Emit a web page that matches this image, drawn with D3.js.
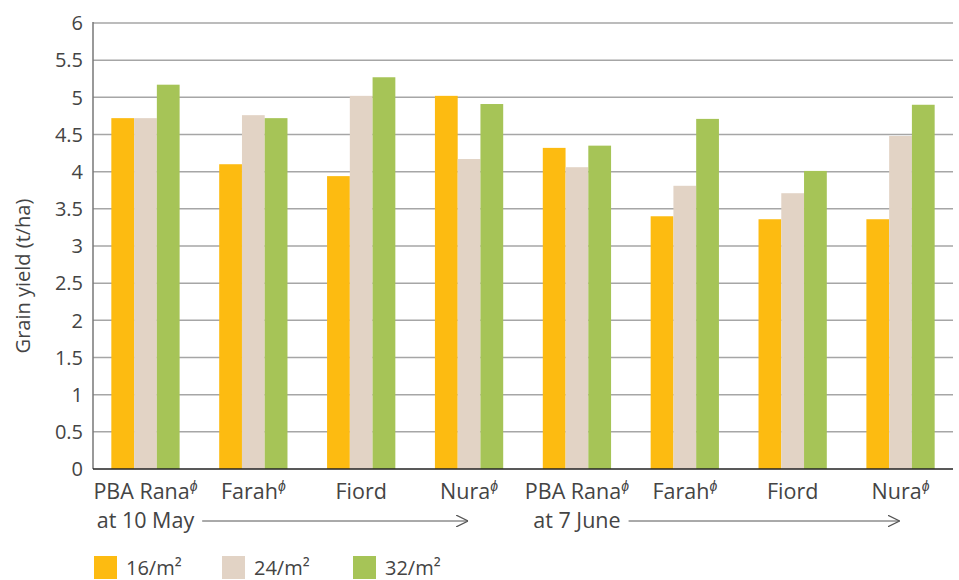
<!DOCTYPE html>
<html><head><meta charset="utf-8">
<script src="https://cdn.jsdelivr.net/npm/d3@7"></script>
<style>body{margin:0;background:#fff}svg{display:block}text{font-family:"Open Sans",sans-serif;fill:#444}</style>
</head><body><svg id="c" width="959" height="580"></svg>
<script>
const varieties = ["PBA Rana", "Farah", "Fiord", "Nura", "PBA Rana", "Farah", "Fiord", "Nura"];
const pbr = [true, true, false, true, true, true, false, true];
const series = ["16/m²", "24/m²", "32/m²"];
const d16 = [4.72, 4.10, 3.94, 5.02, 4.32, 3.40, 3.36, 3.36];
const d24 = [4.72, 4.76, 5.02, 4.17, 4.06, 3.81, 3.71, 4.48];
const d32 = [5.17, 4.72, 5.27, 4.91, 4.35, 4.71, 4.01, 4.90];
const colors = ["#FDBB11", "#E2D3C5", "#A6C457"];
const yTicks = [0, 0.5, 1, 1.5, 2, 2.5, 3, 3.5, 4, 4.5, 5, 5.5, 6];
const sowing = ["at 10 May", "at 7 June"];

const svg = d3.select("#c");
const L = 93, R = 953, T = 23, B = 469;
const idx = d3.range(varieties.length);
const x = d3.scaleBand().domain(idx).range([L, R]).paddingInner(0.367).paddingOuter(0.17);
const xs = d3.scaleBand().domain(d3.range(3)).range([0, x.bandwidth()]);
const y = d3.scaleLinear().domain([0, 6]).range([B, T]);
const data = [d16, d24, d32];

// gridlines
svg.append("g").selectAll("line").data(yTicks.filter(t => t > 0)).join("line")
  .attr("x1", L).attr("x2", R).attr("y1", d => y(d)).attr("y2", d => y(d))
  .attr("stroke", "#a6a6a6").attr("stroke-width", 1.5);

// bars
idx.forEach(i => {
  data.forEach((arr, s) => {
    svg.append("rect").attr("x", x(i) + xs(s)).attr("width", xs.bandwidth())
      .attr("y", y(arr[i])).attr("height", B - y(arr[i])).attr("fill", colors[s]);
  });
});

// axes lines
svg.append("line").attr("x1", L).attr("x2", L).attr("y1", T - 1).attr("y2", B).attr("stroke", "#777").attr("stroke-width", 1.5);
svg.append("line").attr("x1", L).attr("x2", R).attr("y1", B).attr("y2", B).attr("stroke", "#222").attr("stroke-width", 1.5);

// y tick labels
svg.append("g").selectAll("text").data(yTicks).join("text")
  .attr("x", 83).attr("y", d => y(d)).attr("dy", "0.36em").attr("text-anchor", "end")
  .attr("font-size", 20).text(d => d);

// y title
svg.append("text").attr("transform", `translate(30,${(T + B) / 2 + 30}) rotate(-90)`)
  .attr("text-anchor", "middle").attr("font-size", 20).text("Grain yield (t/ha)");

// x labels
idx.forEach(i => {
  const t = svg.append("text").attr("x", x(i) + x.bandwidth() / 2).attr("y", 499)
    .attr("text-anchor", "middle").attr("font-size", 21.5);
  t.append("tspan").text(varieties[i]);
  if (pbr[i]) t.append("tspan").attr("font-size", 14).attr("font-style", "italic").attr("dy", -8).text("ϕ");
});

// sowing labels with arrows
svg.append("defs").append("marker").attr("id", "ah").attr("viewBox", "0 0 10 10")
  .attr("refX", 10).attr("refY", 5).attr("markerWidth", 12).attr("markerHeight", 12)
  .attr("markerUnits", "userSpaceOnUse").attr("orient", "auto")
  .append("path").attr("d", "M0,0 L10,5 L0,10").attr("fill", "none").attr("stroke", "#555").attr("stroke-width", 1);
sowing.forEach((s, k) => {
  const i0 = k * 4;
  const tx = x(i0) + x.bandwidth() / 2;
  const tnode = svg.append("text").attr("x", tx).attr("y", 528).attr("text-anchor", "middle")
    .attr("font-size", 21.5).text(s);
  const w = tnode.node().getComputedTextLength();
  const x1 = tx + w / 2 + 8;
  const x2 = x(i0 + 3) + x.bandwidth() / 2 - 1;
  svg.append("line").attr("x1", x1).attr("x2", x2).attr("y1", 521).attr("y2", 521)
    .attr("stroke", "#555").attr("stroke-width", 1).attr("marker-end", "url(#ah)");
});

// legend
const legX = [94, 222, 353];
series.forEach((s, k) => {
  svg.append("rect").attr("x", legX[k]).attr("y", 556).attr("width", 23).attr("height", 23).attr("fill", colors[k]);
  svg.append("text").attr("x", legX[k] + 32).attr("y", 575).attr("font-size", 20).text(s);
});
</script></body></html>
